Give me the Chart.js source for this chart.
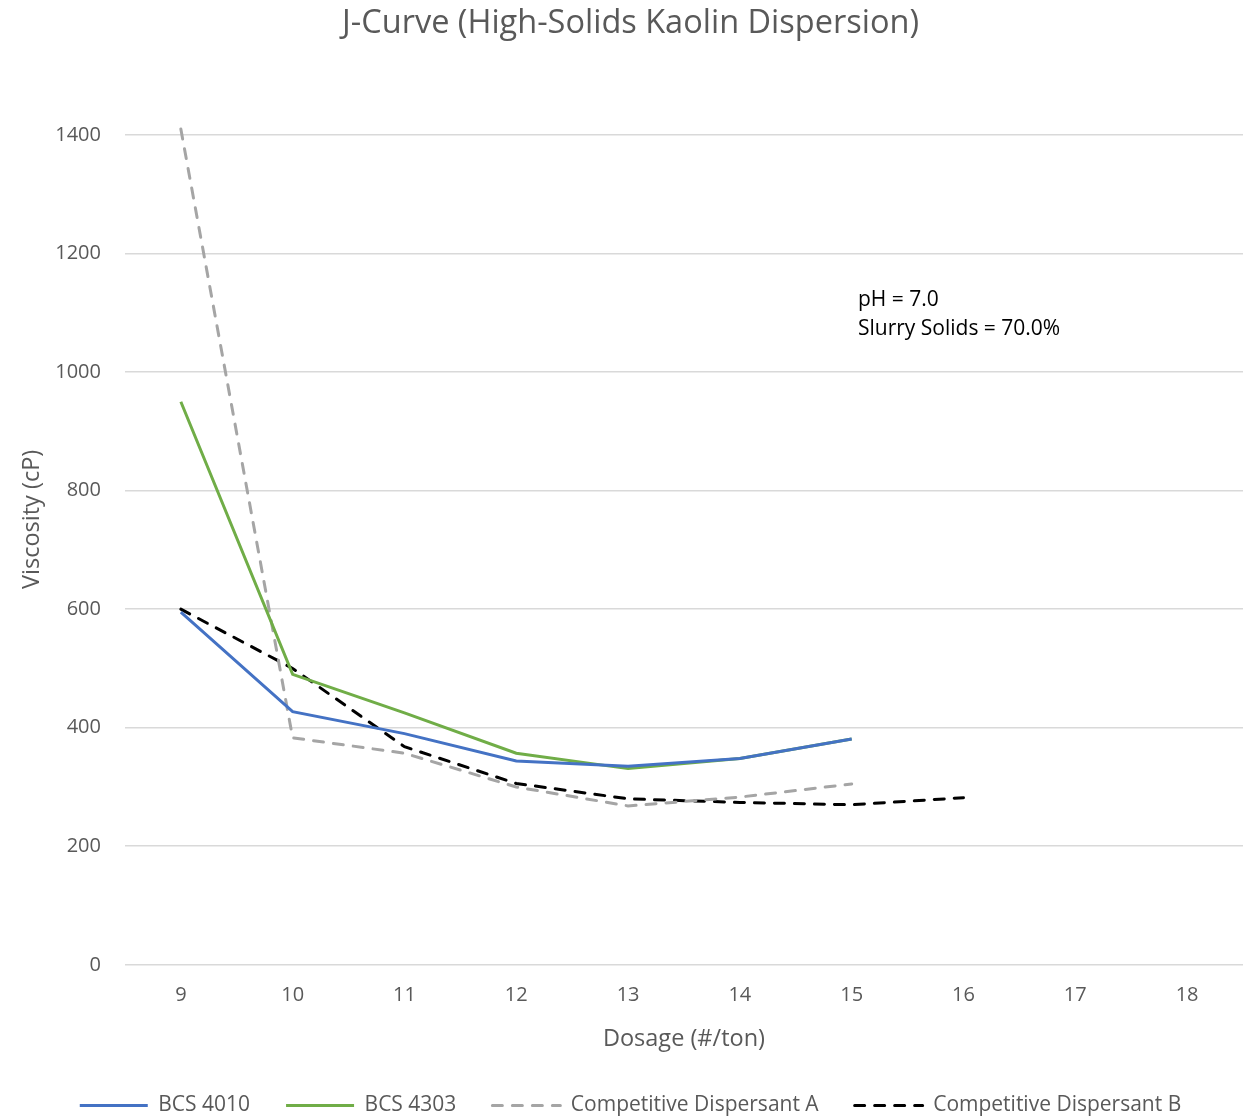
<!DOCTYPE html>
<html>
<head>
<meta charset="utf-8">
<script src="https://cdn.jsdelivr.net/npm/chart.js@4/dist/chart.umd.min.js"></script>
<style>
  html, body { margin: 0; padding: 0; background: #fff; }
  #wrap { width: 1248px; height: 1119px; }
</style>
</head>
<body>
<div id="wrap"><canvas id="jcurve"></canvas></div>
<script>
// dosage categories (#/ton)
const dosage = ['9', '10', '11', '12', '13', '14', '15', '16', '17', '18'];

// viscosity readings (cP)
const bcs4010 = [595, 427, 390, 344, 335, 348, 381];
const bcs4303 = [950, 490, 425, 357, 331, 348, 381];
const compA   = [1410, 383, 357, 300, 268, 283, 305];
const compB   = [600, 500, 368, 306, 280, 274, 270, 282];

const yTicks = [0, 200, 400, 600, 800, 1000, 1200, 1400];
const noteLines = ['pH = 7.0', 'Slurry Solids = 70.0%'];

const grey = '#595959';
const font = '"Open Sans", sans-serif';

// text box inside the plot
const notePlugin = {
  id: 'note',
  afterDraw(chart) {
    const { ctx, chartArea } = chart;
    const x = chartArea.left + (chartArea.right - chartArea.left) * 0.6556;
    const y = chartArea.top + 165;
    ctx.save();
    ctx.fillStyle = '#000';
    ctx.font = '21px ' + font;
    ctx.textBaseline = 'middle';
    noteLines.forEach((t, i) => ctx.fillText(t, x, y + i * 29));
    ctx.restore();
  }
};

function series(label, data, color, dash) {
  return {
    label: label,
    data: data,
    borderColor: color,
    backgroundColor: color,
    borderWidth: 3,
    borderDash: dash,
    borderCapStyle: dash.length ? 'round' : 'butt',
    pointRadius: 0,
    pointHoverRadius: 0,
    pointStyle: 'line',
    tension: 0,
    clip: false
  };
}

new Chart(document.getElementById('jcurve'), {
  type: 'line',
  data: {
    labels: dosage,
    datasets: [
      series('BCS 4010', bcs4010, '#4472C4', []),
      series('BCS 4303', bcs4303, '#70AD47', []),
      series('Competitive Dispersant A', compA, '#A5A5A5', [10, 10]),
      series('Competitive Dispersant B', compB, '#000000', [10, 10])
    ]
  },
  options: {
    responsive: true,
    maintainAspectRatio: false,
    animation: false,
    layout: { padding: { left: 18, right: 5, top: 4, bottom: -7 } },
    plugins: {
      title: {
        display: true,
        text: 'J-Curve (High-Solids Kaolin Dispersion)',
        color: grey,
        font: { family: font, size: 32.5, weight: 'normal' },
        padding: { top: 0, bottom: 92 }
      },
      legend: {
        position: 'bottom',
        labels: {
          color: grey,
          font: { family: font, size: 21 },
          usePointStyle: true,
          pointStyleWidth: 68,
          boxHeight: 6,
          padding: 36,
          generateLabels(chart) {
            const items = Chart.defaults.plugins.legend.labels.generateLabels(chart);
            return items.map(it => {
              const ds = chart.data.datasets[it.datasetIndex];
              it.lineDash = ds.borderDash;
              it.lineWidth = 3;
              it.strokeStyle = ds.borderColor;
              it.lineCap = ds.borderCapStyle;
              return it;
            });
          }
        }
      },
      tooltip: { enabled: false }
    },
    scales: {
      x: {
        offset: true,
        grid: { display: false, drawTicks: false },
        border: { display: false },
        ticks: { color: grey, font: { family: font, size: 20 }, padding: 18 },
        title: {
          display: true,
          text: 'Dosage (#/ton)',
          color: grey,
          font: { family: font, size: 23.5 },
          padding: { top: 0, bottom: 6 }
        }
      },
      y: {
        min: 0,
        max: 1400,
        afterBuildTicks(axis) { axis.ticks = yTicks.map(v => ({ value: v })); },
        grid: { color: '#D9D9D9', lineWidth: 1.6, drawTicks: false },
        border: { display: false },
        ticks: {
          color: grey,
          font: { family: font, size: 20 },
          padding: 24,
          callback: v => String(v)
        },
        title: {
          display: true,
          // leading spaces lift the title a little above centre, as in the original
          text: '\u00A0'.repeat(10) + 'Viscosity (cP)',
          color: grey,
          font: { family: font, size: 23.5 },
          padding: { top: 0, bottom: -15 }
        }
      }
    }
  },
  plugins: [notePlugin]
});
</script>
</body>
</html>
